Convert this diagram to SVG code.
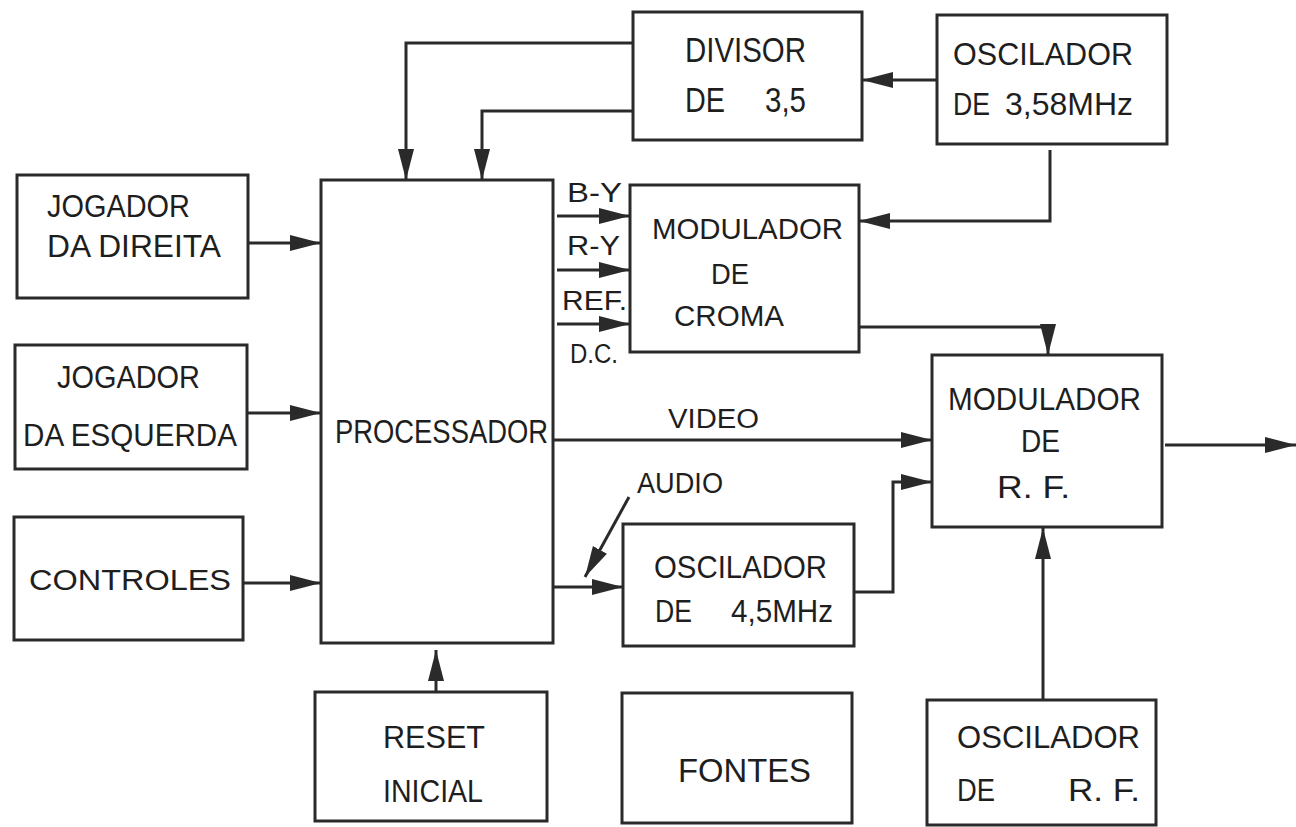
<svg xmlns="http://www.w3.org/2000/svg" width="1296" height="827" viewBox="0 0 1296 827">
<style>
.box{fill:none;stroke:#2a2a2a;stroke-width:3}
.ln{fill:none;stroke:#2a2a2a;stroke-width:3;marker-end:url(#ah)}
text{font-family:"Liberation Sans",Arial,sans-serif;fill:#1e1e1e;font-size:31px}
.lb{font-size:27px}
</style>
<defs>
<marker id="ah" markerUnits="userSpaceOnUse" markerWidth="32" markerHeight="18" refX="31" refY="9" orient="auto">
<path d="M0,1 L31,9 L0,17 Z" fill="#2a2a2a"/>
</marker>
</defs>
<rect width="1296" height="827" fill="#ffffff"/>

<g id="jogador-direita">
<rect class="box" x="17" y="175" width="231" height="123"/>
<text x="47" y="217" textLength="143" lengthAdjust="spacingAndGlyphs">JOGADOR</text>
<text x="47" y="257" textLength="174" lengthAdjust="spacingAndGlyphs">DA DIREITA</text>
</g>
<g id="jogador-esquerda">
<rect class="box" x="15" y="345" width="232" height="124"/>
<text x="57" y="388" textLength="143" lengthAdjust="spacingAndGlyphs">JOGADOR</text>
<text x="23" y="446" textLength="214" lengthAdjust="spacingAndGlyphs">DA ESQUERDA</text>
</g>
<g id="controles">
<rect class="box" x="14" y="517" width="229" height="123"/>
<text x="29" y="590" textLength="202" lengthAdjust="spacingAndGlyphs" style="font-size:29px">CONTROLES</text>
</g>
<g id="processador">
<rect class="box" x="321" y="180" width="232" height="463"/>
<text x="335" y="443" textLength="213" lengthAdjust="spacingAndGlyphs" style="font-size:33px">PROCESSADOR</text>
</g>
<g id="divisor">
<rect class="box" x="633" y="12" width="229" height="128"/>
<text x="685" y="62" textLength="121" lengthAdjust="spacingAndGlyphs" style="font-size:35px">DIVISOR</text>
<text x="685" y="112" textLength="40" lengthAdjust="spacingAndGlyphs" style="font-size:35px">DE</text>
<text x="765" y="112" textLength="41" lengthAdjust="spacingAndGlyphs" style="font-size:35px">3,5</text>
</g>
<g id="oscilador-358">
<rect class="box" x="937" y="15" width="230" height="129"/>
<text x="953" y="65" textLength="180" lengthAdjust="spacingAndGlyphs">OSCILADOR</text>
<text x="953" y="115" textLength="37" lengthAdjust="spacingAndGlyphs">DE</text>
<text x="1005" y="115" textLength="128" lengthAdjust="spacingAndGlyphs">3,58MHz</text>
</g>
<g id="modulador-croma">
<rect class="box" x="630" y="185" width="229" height="167"/>
<text x="652" y="239" textLength="191" lengthAdjust="spacingAndGlyphs" style="font-size:30px">MODULADOR</text>
<text x="711" y="284" textLength="38" lengthAdjust="spacingAndGlyphs" style="font-size:30px">DE</text>
<text x="674" y="326" textLength="110" lengthAdjust="spacingAndGlyphs" style="font-size:30px">CROMA</text>
</g>
<g id="modulador-rf">
<rect class="box" x="932" y="355" width="230" height="172"/>
<text x="948" y="410" textLength="193" lengthAdjust="spacingAndGlyphs" style="font-size:32px">MODULADOR</text>
<text x="1021" y="452" textLength="39" lengthAdjust="spacingAndGlyphs" style="font-size:32px">DE</text>
<text x="997" y="498" textLength="73" lengthAdjust="spacingAndGlyphs" style="font-size:32px">R. F.</text>
</g>
<g id="oscilador-45">
<rect class="box" x="623" y="524" width="231" height="122"/>
<text x="654" y="578" textLength="173" lengthAdjust="spacingAndGlyphs">OSCILADOR</text>
<text x="655" y="622" textLength="37" lengthAdjust="spacingAndGlyphs">DE</text>
<text x="731" y="622" textLength="102" lengthAdjust="spacingAndGlyphs">4,5MHz</text>
</g>
<g id="reset-inicial">
<rect class="box" x="315" y="692" width="232" height="129"/>
<text x="383" y="748" textLength="102" lengthAdjust="spacingAndGlyphs" style="font-size:32px">RESET</text>
<text x="383" y="802" textLength="100" lengthAdjust="spacingAndGlyphs" style="font-size:32px">INICIAL</text>
</g>
<g id="fontes">
<rect class="box" x="622" y="693" width="230" height="130"/>
<text x="678" y="782" textLength="133" lengthAdjust="spacingAndGlyphs" style="font-size:34px">FONTES</text>
</g>
<g id="oscilador-rf">
<rect class="box" x="927" y="700" width="229" height="125"/>
<text x="957" y="748" textLength="183" lengthAdjust="spacingAndGlyphs" style="font-size:32px">OSCILADOR</text>
<text x="957" y="801" textLength="38" lengthAdjust="spacingAndGlyphs" style="font-size:32px">DE</text>
<text x="1068" y="801" textLength="72" lengthAdjust="spacingAndGlyphs" style="font-size:32px">R. F.</text>
</g>

<g id="connectors">
<path class="ln" d="M633,43 H406 V180"/>
<path class="ln" d="M633,111 H482 V180"/>
<path class="ln" d="M937,80 H862"/>
<path class="ln" d="M1050,150 V221 H859"/>
<path class="ln" d="M248,243 H321"/>
<path class="ln" d="M247,413 H321"/>
<path class="ln" d="M243,583 H321"/>
<path class="ln" d="M557,216 H630"/>
<path class="ln" d="M557,270 H630"/>
<path class="ln" d="M557,324 H630"/>
<path class="ln" d="M859,327 H1048 V355"/>
<path class="ln" d="M553,440 H932"/>
<path class="ln" d="M629,497 L585,577"/>
<path class="ln" d="M553,587 H623"/>
<path class="ln" d="M854,592 H893 V482 H932"/>
<path class="ln" d="M1165,445 H1296"/>
<path class="ln" d="M1043,700 V528"/>
<path class="ln" d="M436,692 V650"/>
<text class="lb" x="567" y="202" textLength="55" lengthAdjust="spacingAndGlyphs">B-Y</text>
<text class="lb" x="567" y="255" textLength="53" lengthAdjust="spacingAndGlyphs">R-Y</text>
<text class="lb" x="562" y="310" textLength="65" lengthAdjust="spacingAndGlyphs">REF.</text>
<text class="lb" x="570" y="363" textLength="48" lengthAdjust="spacingAndGlyphs">D.C.</text>
<text class="lb" x="668" y="428" textLength="91" lengthAdjust="spacingAndGlyphs">VIDEO</text>
<text class="lb" x="637" y="493" textLength="86" lengthAdjust="spacingAndGlyphs" style="font-size:29px">AUDIO</text>
</g>
</svg>
